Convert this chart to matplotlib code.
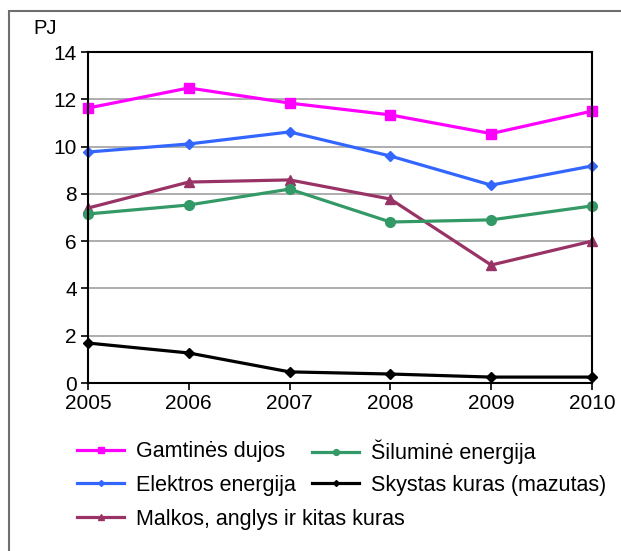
import matplotlib
matplotlib.use("Agg")
import matplotlib.pyplot as plt
from matplotlib.patches import Rectangle

years = [2005, 2006, 2007, 2008, 2009, 2010]
gamtines_dujos = [11.63, 12.48, 11.84, 11.34, 10.55, 11.5]
elektros_energija = [9.77, 10.11, 10.62, 9.6, 8.37, 9.18]
malkos_anglys = [7.4, 8.5, 8.59, 7.78, 4.99, 6.0]
silumine_energija = [7.15, 7.53, 8.2, 6.81, 6.9, 7.49]
skystas_kuras = [1.69, 1.27, 0.47, 0.38, 0.25, 0.25]

plt.rcParams['font.family'] = ['Liberation Sans', 'DejaVu Sans']

fig = plt.figure(figsize=(6.21, 5.51), dpi=100)
ax = fig.add_axes([0.1417, 0.3049, 0.8116, 0.6007])

# outer chart frame
fig.patches.append(Rectangle((9 / 621, -0.1), 1.2, (551 - 11) / 551 + 0.1,
                             transform=fig.transFigure, fill=False,
                             edgecolor='#6e6e6e', linewidth=1.5))

lw = 2.3
l1, = ax.plot(years, gamtines_dujos, color='#FF00FF', lw=lw, marker='s', ms=7, label='Gamtinės dujos')
l2, = ax.plot(years, elektros_energija, color='#3366FF', lw=lw, marker='D', ms=5, label='Elektros energija')
l3, = ax.plot(years, malkos_anglys, color='#993366', lw=lw, marker='^', ms=7, label='Malkos, anglys ir kitas kuras')
l4, = ax.plot(years, silumine_energija, color='#339966', lw=lw, marker='o', ms=7, label='Šiluminė energija')
l5, = ax.plot(years, skystas_kuras, color='black', lw=lw, marker='D', ms=5, label='Skystas kuras (mazutas)')

ax.set_xlim(2005, 2010)
ax.set_ylim(0, 14)
ax.set_yticks(range(0, 15, 2))
ax.set_xticks(years)
ax.tick_params(labelsize=15, direction='out', length=5, width=1.2, pad=3)
ax.grid(axis='y', color='#a0a0a0', lw=1.2)
ax.set_axisbelow(True)
for s in ax.spines.values():
    s.set_linewidth(1.5)
    s.set_color('black')
for l in [l1, l2, l3, l4, l5]:
    l.set_clip_on(False)

fig.text(33 / 621, 1 - 29 / 551, 'PJ', fontsize=14.5, va='center', ha='left')

# one legend per entry so both columns share the same rows
leg_kw = dict(frameon=False, fontsize=15.5, loc='center left',
              handlelength=2.2, handletextpad=0.55, markerscale=0.6,
              borderpad=0, borderaxespad=0)
slots = [(l1, 77, 452), (l2, 77, 485), (l3, 77, 519), (l4, 312, 452), (l5, 312, 485)]
for line, px, py in slots:
    fig.legend(handles=[line], bbox_to_anchor=(px / 621, 1 - py / 551), **leg_kw)

fig.savefig('out.png', dpi=100)
